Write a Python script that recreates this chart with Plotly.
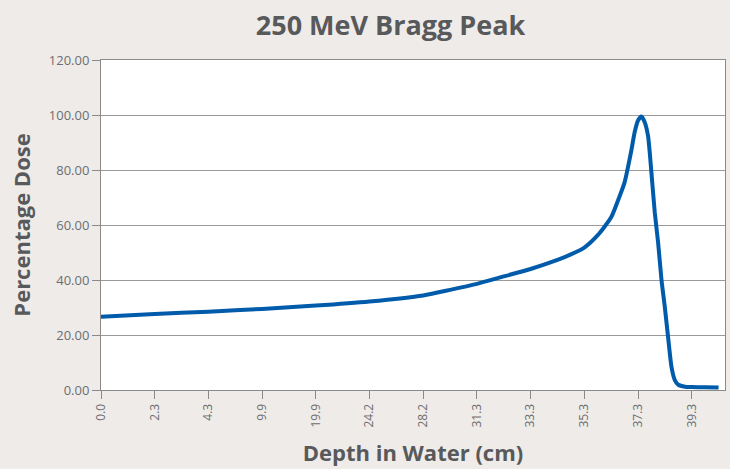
import plotly.graph_objects as go

# Tick labels on the (category-style) depth axis, evenly spaced
depth_labels = ["0.0", "2.3", "4.3", "9.9", "19.9", "24.2", "28.2", "31.3", "33.3", "35.3", "37.3", "39.3"]

# Sample positions along the axis (in label-interval units) and percentage dose
position = [0, 1, 2, 3, 4, 5, 6, 6.5, 7, 7.5, 8, 8.5, 8.75, 9.0, 9.25, 9.5, 9.625, 9.75,
            9.875, 9.9375, 10.0, 10.0625, 10.125, 10.1875, 10.25, 10.3125, 10.375, 10.4375,
            10.5, 10.5625, 10.625, 10.6875, 10.75, 10.875, 11.0, 11.25, 11.5]
dose = [26.6, 27.6, 28.5, 29.5, 30.7, 32.2, 34.4, 36.4, 38.6, 41.3, 44.0, 47.3, 49.3, 51.8,
        56.3, 62.8, 68.8, 75.5, 87.0, 93.7, 98.0, 99.5, 97.4, 92.3, 79.0, 64.5, 53.5, 40.0,
        30.0, 18.8, 8.2, 3.5, 1.9, 1.2, 1.1, 1.0, 0.9]

fig = go.Figure()
fig.add_trace(go.Scatter(
    x=position, y=dose, mode="lines",
    line=dict(color="#005BAA", width=4, shape="spline", smoothing=0.6),
    hoverinfo="skip", showlegend=False,
))

axis_gray = "#8a8a8a"
font_family = "Open Sans, DejaVu Sans, sans-serif"
tick_font = dict(family=font_family, size=12, color="#6d6e71")
title_font = dict(family=font_family, size=22, color="#58595B")

fig.update_layout(
    width=730, height=469,
    paper_bgcolor="#EFEBE8", plot_bgcolor="#FFFFFF",
    margin=dict(l=101, r=5, t=60, b=79),
    title=dict(text="<b>250 MeV Bragg Peak</b>", x=0.535, xanchor="center", y=0.945, yanchor="middle",
               font=dict(family=font_family, size=27, color="#58595B")),
)
fig.update_xaxes(
    range=[0, 11.62], tickvals=list(range(len(depth_labels))), ticktext=depth_labels,
    tickangle=-90, ticks="outside", ticklen=8, tickcolor=axis_gray, tickwidth=1,
    showgrid=False, zeroline=False, showline=True, linecolor=axis_gray, linewidth=1, mirror=True,
    tickfont=tick_font,
    title=dict(text="<b>Depth in Water (cm)</b>", font=title_font, standoff=19),
)
fig.update_yaxes(
    range=[0, 120], dtick=20, tickformat=".2f",
    ticks="outside", ticklen=8, tickcolor=axis_gray, tickwidth=1,
    showgrid=True, gridcolor="#9a9a9a", gridwidth=1, zeroline=False,
    showline=True, linecolor=axis_gray, linewidth=1, mirror=True,
    tickfont=dict(family=font_family, size=13, color="#6d6e71"),
    title=dict(text="<b>Percentage Dose</b>", font=title_font, standoff=12),
)

fig.write_html("out.html", config={"displayModeBar": False},
               post_script="document.body.style.margin='0';document.body.style.overflow='hidden';")
